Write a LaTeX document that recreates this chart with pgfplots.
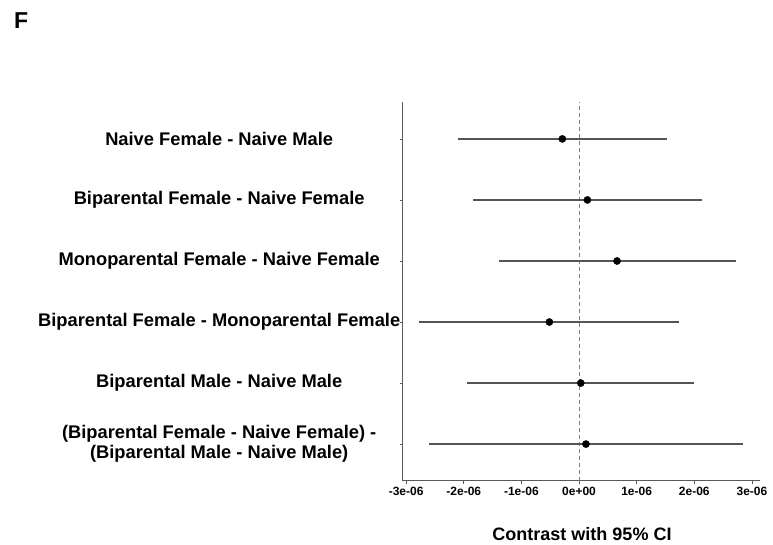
\documentclass[border=0pt]{standalone}
\usepackage{fontspec}
\setmainfont{Liberation Sans}
\usepackage{pgfplots}
\pgfplotsset{compat=1.18}
\definecolor{axgray}{RGB}{90,90,90}
\definecolor{bargray}{RGB}{85,85,85}
\begin{document}
\begin{tikzpicture}[x=1pt,y=1pt]
\useasboundingbox (0,0) rectangle (773,544);
\node[anchor=base west,inner sep=0,font=\fontsize{23}{27}\selectfont\bfseries] at (14,515) {F};
\begin{axis}[
  at={(402.7pt,63.3pt)}, anchor=south west,
  scale only axis, width=357.3pt, height=378.4pt,
  xmin=-3.06, xmax=3.14, ymin=0.4, ymax=6.6,
  axis x line*=bottom, axis y line*=left,
  axis line style={axgray, line width=0.9pt, -},
  xtick={-3,-2,-1,0,1,2,3},
  xticklabels={-3e-06,-2e-06,-1e-06,0e+00,1e-06,2e-06,3e-06},
  ytick={1,2,3,4,5,6},
  yticklabels={{(Biparental Female - Naive Female) -\\(Biparental Male - Naive Male)},
    {Biparental Male - Naive Male},
    {Biparental Female - Monoparental Female},
    {Monoparental Female - Naive Female},
    {Biparental Female - Naive Female},
    {Naive Female - Naive Male}},
  tick align=outside, major tick length=3pt,
  tick style={axgray, line width=0.6pt},
  xticklabel style={font=\fontsize{12}{14}\selectfont\bfseries, text=black, yshift=0pt},
  yticklabel style={font=\fontsize{18.3}{20}\selectfont\bfseries, text=black, align=center, anchor=center, xshift=-180.5pt},
  clip=false,
]
\addplot[dashed, line width=0.6pt, gray, dash pattern=on 4pt off 3pt] coordinates {(0,0.4) (0,6.6)};
\addplot[only marks, mark=*, mark size=3.6pt, black,
  error bars/.cd, x dir=both, x explicit, error mark=none,
  error bar style={bargray, line width=1.2pt}]
  coordinates {
  (-0.29,6) += (1.815,0) -= (1.81,0)
  (0.145,5) += (1.995,0) -= (1.985,0)
  (0.66,4) += (2.06,0) -= (2.05,0)
  (-0.515,3) += (2.245,0) -= (2.255,0)
  (0.03,2) += (1.96,0) -= (1.97,0)
  (0.12,1) += (2.73,0) -= (2.73,0)
  };
\end{axis}
\node[anchor=base,inner sep=0,font=\fontsize{18}{21}\selectfont\bfseries] at (582,4) {Contrast with 95\% CI};
\end{tikzpicture}
\end{document}
